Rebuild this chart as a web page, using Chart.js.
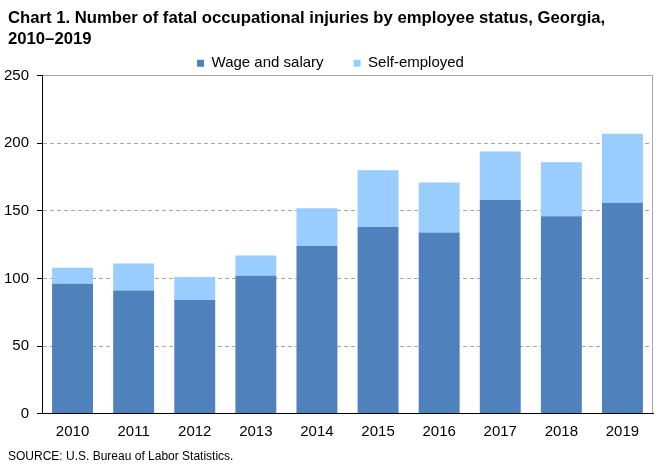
<!DOCTYPE html>
<html>
<head>
<meta charset="utf-8">
<script src="https://cdn.jsdelivr.net/npm/chart.js@4"></script>
<style>
html,body{margin:0;padding:0;background:#fff;}
#wrap{width:661px;height:465px;}
</style>
</head>
<body>
<div id="wrap"><canvas id="c"></canvas></div>
<script>
const years = ['2010','2011','2012','2013','2014','2015','2016','2017','2018','2019'];
const wageAndSalary = [96, 91, 84, 102, 124, 138, 134, 158, 146, 156];
const selfEmployed = [12, 20, 17, 15, 28, 42, 37, 36, 40, 51];
const titleLines = ['Chart 1. Number of fatal occupational injuries by employee status, Georgia,', '2010\u20132019'];
const sourceText = 'SOURCE: U.S. Bureau of Labor Statistics.';

const FONT = "'Liberation Sans', Arial, sans-serif";
const GRID = '#A6A6A6';

// let the y tick labels extend left of the scale box (they are clipped to it otherwise)
const yLabelRoom = {
  id: 'yLabelRoom',
  afterLayout(chart) { if (chart.scales.y) chart.scales.y.left = 0; }
};

new Chart(document.getElementById('c'), {
  type: 'bar',
  data: {
    labels: years,
    datasets: [
      {label: 'Wage and salary', data: wageAndSalary, backgroundColor: '#4F81BD', borderWidth: 0,
       barPercentage: 0.67, categoryPercentage: 1.0},
      {label: 'Self-employed', data: selfEmployed, backgroundColor: '#99CCFF', borderWidth: 0,
       barPercentage: 0.67, categoryPercentage: 1.0}
    ]
  },
  plugins: [yLabelRoom],
  options: {
    responsive: true,
    maintainAspectRatio: false,
    animation: false,
    layout: {padding: {left: 8, right: 8, top: 6, bottom: 1}},
    plugins: {
      title: {
        display: true, text: titleLines, align: 'start', color: '#000',
        font: {family: FONT, size: 16.7, weight: 'bold', lineHeight: 1.25},
        padding: {top: 2, bottom: -24}
      },
      subtitle: {
        display: true, text: sourceText, position: 'bottom', align: 'start', color: '#000',
        font: {family: FONT, size: 12, weight: 'normal'},
        padding: {top: 0, bottom: 0}
      },
      legend: {
        position: 'top', align: 'center', maxHeight: 50,
        labels: {
          color: '#000', font: {family: FONT, size: 15},
          boxWidth: 7, boxHeight: 7, padding: 30
        }
      },
      tooltip: {enabled: false}
    },
    scales: {
      x: {
        stacked: true,
        grid: {
          display: true, offset: true, drawTicks: false,
          color: (ctx) => ctx.type === 'scale' ? GRID : 'rgba(0,0,0,0)'
        },
        border: {display: true, color: '#000', width: 1},
        ticks: {color: '#000', font: {family: FONT, size: 15}, padding: 9}
      },
      y: {
        stacked: true, min: 0, max: 250,
        afterFit: (scale) => { scale.width = 34; },
        ticks: {stepSize: 50, color: '#000', font: {family: FONT, size: 15}, padding: 8},
        grid: {
          color: (ctx) => (ctx.tick && ctx.tick.value === 0) ? 'rgba(0,0,0,0)' : GRID,
          drawTicks: true, tickLength: 5, tickColor: '#000', tickBorderDash: [], tickWidth: 1
        },
        border: {
          display: true, color: '#000', width: 1,
          dash: (ctx) => (ctx.tick && ctx.tick.value === 250) ? [] : [4, 3]
        }
      }
    }
  }
});
</script>
</body>
</html>
